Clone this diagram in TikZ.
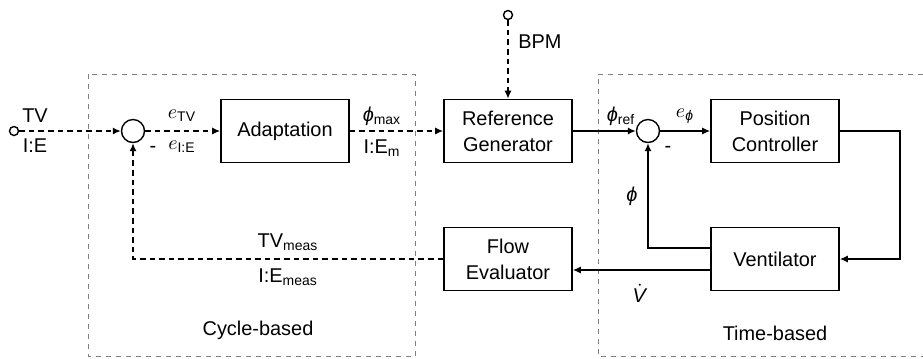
\documentclass[tikz,border=0pt]{standalone}
\usepackage{amsmath}
\usepackage{fontspec}
\setmainfont{Liberation Sans}
\usetikzlibrary{arrows.meta,calc,positioning}

\tikzset{
  blk/.style={draw,line width=0.8pt,minimum width=64bp,minimum height=31.5bp,
    align=center,inner sep=0pt},
  sumpt/.style={draw,circle,line width=0.7pt,minimum size=11.5bp,inner sep=0pt},
  term/.style={draw,circle,line width=0.7pt,minimum size=4.5bp,inner sep=0pt},
  sig/.style={line width=0.8pt},
  sigd/.style={line width=0.8pt,dash pattern=on 2.8bp off 2bp},
  fence/.style={gray,line width=0.5pt,dash pattern=on 2.6bp off 2.4bp},
  tip/.style={-{Latex[length=4bp,width=3.6bp]}}
}
\newcommand{\phisym}{\textit{ϕ}}

\begin{document}
\begin{tikzpicture}[x=0.5bp,y=-0.5bp,font=\fontsize{10}{12}\selectfont]
    \useasboundingbox (0,0) rectangle (923,358);
    % the two parts
    \draw[fence] (88,74) rectangle (415,356.5);
    \draw[fence] (923,74) -- (598,74) -- (598,356.5) -- (923,356.5);
    \node at (258,330) {Cycle-based};
    \node at (775,333) {Time-based};

    \node[term] (in) at (14,131) {};
    \node[term] (bpm) at (508,15) {};
    \node[sumpt] (s1) at (133,131) {};
    \node[sumpt] (s2) at (648,131) {};
    \node[blk] (adapt) at (285,131) {Adaptation};
    \node[blk] (refgen) at (508,131) {Reference\\[1pt]Generator};
    \node[blk] (posctl) at (775,131) {Position\\[1pt]Controller};
    \node[blk] (vent) at (775,259) {Ventilator};
    \node[blk] (flow) at (508,259) {Flow\\[1pt]Evaluator};
    \coordinate (rc) at (900,131);
    \coordinate (fb) at (133,259);

    \draw[sigd,tip] (in) -- (s1);
    \draw[sigd,tip] (s1) -- (adapt);
    \draw[sigd,tip] (adapt) -- (refgen);
    \draw[sigd,tip] (bpm) -- (refgen);
    \draw[sig,tip] (refgen) -- (s2);
    \draw[sig,tip] (s2) -- (posctl);
    \draw[sig,tip] (posctl) -- (rc) |- (vent);
    \draw[sig,tip] ([yshift=5.5bp]vent.west) -| (s2);
    \draw[sig,tip] ([yshift=-5.5bp]vent.west) -- ([yshift=-5.5bp]flow.east);
    \draw[sigd,tip] (flow) -- (fb) -- (s1);

    % signal names
    \node at (35,116) {TV};
    \node at (35,146) {I:E};
    \node at (182,116) {$e_{\text{TV}}$};
    \node at (182,147) {$e_{\text{I:E}}$};
    \node at (153,149) {-};
    \node at (668,149) {-};
    \node at (382,116) {\phisym$_{\text{max}}$};
    \node at (382,148) {I:E$_{\text{m}}$};
    \node at (540,42) {BPM};
    \node at (621,116) {\phisym$_{\text{ref}}$};
    \node at (685,116) {$e_{\text{\phisym}}$};
    \node at (632,196) {\phisym};
    \node at (640,293) {$\dot{\text{\textit{V}}}$};
    \node at (288,242) {TV$_{\text{meas}}$};
    \node at (288,277) {I:E$_{\text{meas}}$};
\end{tikzpicture}
\end{document}
